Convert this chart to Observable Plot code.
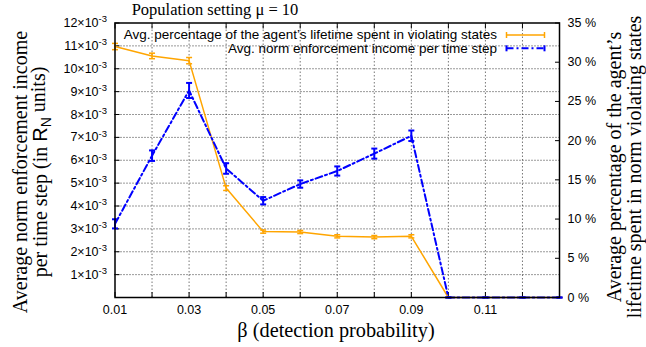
<!DOCTYPE html>
<html><head><meta charset="utf-8">
<script src="https://cdn.jsdelivr.net/npm/d3@7"></script>
<script src="https://cdn.jsdelivr.net/npm/@observablehq/plot@0.6"></script>
<style>body{margin:0;background:#fff}svg{display:block}</style>
</head><body><div id="chart"></div>
<script>
// β values
const beta = [0.01,0.02,0.03,0.04,0.05,0.06,0.07,0.08,0.09,0.10,0.11,0.12,0.13];
// Avg. norm enforcement income per time step (×10^-3 R_N units), left axis
const income    = [3.22,6.20,9.05,5.64,4.23,4.96,5.53,6.29,7.07,0,0,0,0];
const incomeErr = [0.20,0.23,0.33,0.23,0.16,0.16,0.20,0.22,0.23,0,0,0,0];
// Avg. percentage of lifetime spent in violating states (%), right axis
const violation    = [32.0,30.8,30.2,13.95,8.4,8.35,7.8,7.7,7.8,0,0,0,0];
const violationErr = [0.4,0.35,0.4,0.3,0.2,0.2,0.2,0.2,0.2,0,0,0,0];

const xTickValues = beta;
const xTickLabels = [0.01,0.03,0.05,0.07,0.09,0.11];
const leftTicks  = [1,2,3,4,5,6,7,8,9,10,11,12];
const rightTicks = [0,5,10,15,20,25,30,35];
const gridXTicks = [0.02,0.03,0.04,0.05,0.06,0.07,0.08,0.09,0.10,0.11,0.12];
const gridYTicks = [1,2,3,4,5,6,7,8,9,10,11];

const titleText = "Population setting μ = 10";
const legendViolation = "Avg. percentage of the agent’s lifetime spent in violating states";
const legendIncome = "Avg. norm enforcement income per time step";
const xTitle = "β (detection probability)";
const leftTitle1 = "Average norm enforcement income";
const rightTitle1 = "Average percentage of the agent’s";
const rightTitle2 = "lifetime spent in norm violating states";

const yMax = 12, pctMax = 35;
const pctToY = p => p * yMax / pctMax;

const incomeData = beta.map((b, i) => ({b, v: income[i], lo: income[i] - incomeErr[i], hi: income[i] + incomeErr[i]}));
const violData = beta.map((b, i) => ({b, v: pctToY(violation[i]), lo: pctToY(violation[i] - violationErr[i]), hi: pctToY(violation[i] + violationErr[i])}));

const cap = {draw(ctx, size) { const w = Math.sqrt(size / Math.PI); ctx.moveTo(-w, 0); ctx.lineTo(w, 0); }};
const ORANGE = "#ffa500", BLUE = "#0000ff";

const svg = Plot.plot({
  width: 646, height: 347,
  marginLeft: 114.5, marginRight: 87, marginTop: 22.5, marginBottom: 50,
  style: {fontFamily: "'Liberation Sans', Arial, sans-serif", fontSize: "12.5px", color: "#000", background: "#fff"},
  x: {domain: [0.01, 0.13], label: null},
  y: {domain: [0, yMax], label: null},
  marks: [
    Plot.gridX({ticks: gridXTicks, stroke: "#777", strokeOpacity: 1, strokeDasharray: "1.5,2"}),
    Plot.gridY({ticks: gridYTicks, stroke: "#333", strokeOpacity: 1, strokeDasharray: "1,2"}),
    Plot.axisX({ticks: xTickValues, tickSize: -5, tickFormat: () => ""}),
    Plot.axisX({anchor: "top", ticks: xTickValues, tickSize: -5, tickFormat: () => ""}),
    Plot.axisX({ticks: xTickLabels, tickSize: 0, tickPadding: 8, tickFormat: d => d.toFixed(2)}),
    Plot.axisY({anchor: "left", ticks: leftTicks, tickSize: -5, tickFormat: () => ""}),
    Plot.axisY({anchor: "left", ticks: leftTicks, tickSize: 0, tickPadding: 8, tickFormat: d => d + "×10|-3"}),
    Plot.axisY({anchor: "right", ticks: rightTicks.map(pctToY), tickSize: -5, tickFormat: () => ""}),
    Plot.axisY({anchor: "right", ticks: rightTicks.map(pctToY), tickSize: 0, tickPadding: 8, tickFormat: d => Math.round(d * pctMax / yMax) + " %"}),
    Plot.line(violData, {x: "b", y: "v", stroke: ORANGE, strokeWidth: 1.5}),
    Plot.ruleX(violData, {x: "b", y1: "lo", y2: "hi", stroke: ORANGE, strokeWidth: 1.5}),
    Plot.dot(violData, {x: "b", y: "lo", symbol: cap, r: 3, stroke: ORANGE, strokeWidth: 1.5}),
    Plot.dot(violData, {x: "b", y: "hi", symbol: cap, r: 3, stroke: ORANGE, strokeWidth: 1.5}),
    Plot.line(incomeData, {x: "b", y: "v", stroke: BLUE, strokeWidth: 2, strokeDasharray: "7,3,2,3"}),
    Plot.ruleX(incomeData, {x: "b", y1: "lo", y2: "hi", stroke: BLUE, strokeWidth: 2}),
    Plot.dot(incomeData, {x: "b", y: "lo", symbol: cap, r: 3, stroke: BLUE, strokeWidth: 2}),
    Plot.dot(incomeData, {x: "b", y: "hi", symbol: cap, r: 3, stroke: BLUE, strokeWidth: 2}),
    Plot.frame({stroke: "#000", strokeWidth: 1.5})
  ]
});

const s = d3.select(svg);
// superscripts in left tick labels
s.selectAll("text").each(function() {
  const t = this.textContent;
  if (t.includes("|")) {
    const [a, b] = t.split("|");
    const el = d3.select(this);
    el.text(null);
    el.append("tspan").text(a);
    el.append("tspan").attr("dy", "-0.5em").attr("font-size", "9.5px").text(b);
  }
});

const serif = "'Liberation Serif', 'Times New Roman', serif";
const sans = "'Liberation Sans', Arial, sans-serif";
s.append("text").attr("x", 131.7).attr("y", 14.8).attr("text-anchor", "start").attr("font-family", serif).attr("font-size", "16.5px").attr("fill", "#000").text(titleText);

// legend
const lg = s.append("g").attr("font-family", sans).attr("font-size", "13.5px").attr("fill", "#000").attr("text-anchor", "end");
lg.append("text").attr("x", 497).attr("y", 39.3).text(legendViolation);
lg.append("text").attr("x", 497).attr("y", 52.6).text(legendIncome);
const sx1 = 506.5, sx2 = 544.5;
[[35, ORANGE, 1.5, null], [48.3, BLUE, 2, "7,3,2,3"]].forEach(([yy, c, w, da]) => {
  s.append("line").attr("x1", sx1).attr("x2", sx2).attr("y1", yy).attr("y2", yy).attr("stroke", c).attr("stroke-width", w).attr("stroke-dasharray", da);
  [sx1, sx2].forEach(xx => s.append("line").attr("x1", xx).attr("x2", xx).attr("y1", yy - 3).attr("y2", yy + 3).attr("stroke", c).attr("stroke-width", w));
});

// x title
s.append("text").attr("x", 336).attr("y", 337).attr("text-anchor", "middle").attr("font-family", serif).attr("font-size", "20.3px").attr("fill", "#000").text(xTitle);

// left title
const lt = s.append("g").attr("transform", "translate(0,172) rotate(-90)").attr("font-family", serif).attr("font-size", "20px").attr("fill", "#000").attr("text-anchor", "middle");
lt.append("text").attr("x", 0).attr("y", 27).text(leftTitle1);
const l2 = lt.append("text").attr("x", 0).attr("y", 47);
l2.append("tspan").text("per time step (in ");
l2.append("tspan").attr("font-family", sans).text("R");
l2.append("tspan").attr("font-family", sans).attr("font-size", "14px").attr("dy", "0.3em").text("N");
l2.append("tspan").attr("dy", "-0.3em").text(" units)");

// right title
const rt = s.append("g").attr("transform", "translate(0,167) rotate(-90)").attr("font-family", serif).attr("font-size", "20px").attr("fill", "#000").attr("text-anchor", "middle");
rt.append("text").attr("x", 0).attr("y", 620.5).text(rightTitle1);
rt.append("text").attr("x", 0).attr("y", 641).text(rightTitle2);

document.getElementById("chart").appendChild(svg);
</script>
</body></html>
